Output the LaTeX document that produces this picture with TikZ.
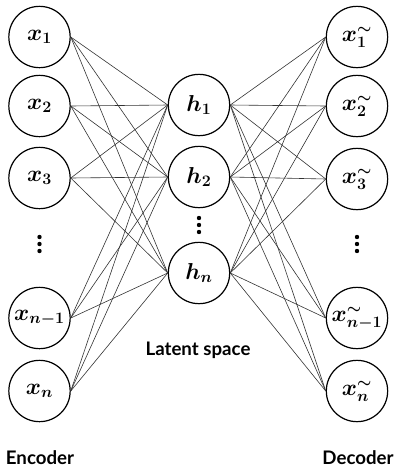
\documentclass[tikz,border=0pt]{standalone}
\usepackage{fontspec}
\usepackage{amsmath,bm}
\setsansfont{Lato}
\begin{document}
\begin{tikzpicture}[x=0.75pt,y=-0.75pt,
  neuron/.style={circle,draw=black,line width=0.9pt,minimum size=46pt,inner sep=0pt,font=\fontsize{17}{19}\selectfont},
  link/.style={draw=black!80,line width=0.45pt},
  caption/.style={font=\sffamily\bfseries\fontsize{14}{16}\selectfont},
  dot/.style={circle,fill=black,inner sep=0pt,minimum size=3.3pt}]
\useasboundingbox (0,0) rectangle (400,469);
% encoder
\node[neuron] (x1) at (39.5,37) {$\bm{x_1}$};
\node[neuron] (x2) at (39.5,106) {$\bm{x_2}$};
\node[neuron] (x3) at (39.5,178) {$\bm{x_3}$};
\node[neuron] (x4) at (39.5,318) {$\bm{x_{n-1}}$};
\node[neuron] (x5) at (39.5,391) {$\bm{x_n}$};
% latent
\node[neuron] (h1) at (199,105) {$\bm{h_1}$};
\node[neuron] (h2) at (199,177) {$\bm{h_2}$};
\node[neuron] (h3) at (199,273) {$\bm{h_n}$};
% decoder
\node[neuron] (y1) at (357,37) {$\bm{x^{\sim}_1}$};
\node[neuron] (y2) at (357,106) {$\bm{x^{\sim}_2}$};
\node[neuron] (y3) at (357,179) {$\bm{x^{\sim}_3}$};
\node[neuron] (y4) at (357,318) {$\bm{x^{\sim}_{n-1}}$};
\node[neuron] (y5) at (357,391) {$\bm{x^{\sim}_n}$};
% vertical dots
\foreach \cx/\cy in {39.5/244, 199/225, 357/244}{
  \foreach \k in {-7,0,7}{
    \node[dot] at (\cx,\cy+\k) {};
  }
}
% links
\foreach \i in {1,2,3,4,5}{
  \foreach \j in {1,2,3}{
    \draw[link] (x\i.east) -- (h\j.west);
    \draw[link] (h\j.east) -- (y\i.west);
  }
}
% captions
\node[caption] (enc) at (40,458) {Encoder};
\node[caption] (lat) at (198,350) {Latent space};
\node[caption] (dec) at (358,458) {Decoder};
\end{tikzpicture}
\end{document}
